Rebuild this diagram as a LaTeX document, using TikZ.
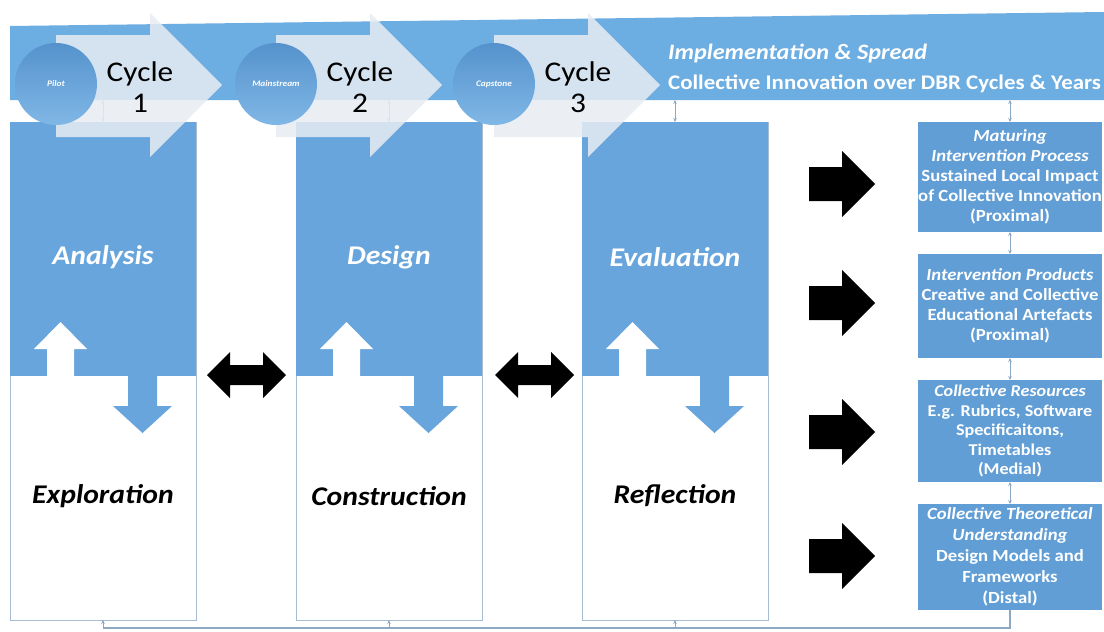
\documentclass[tikz,border=0pt]{standalone}
\usepackage{fontspec}
\setmainfont[FakeStretch=1.1]{Carlito}
\usetikzlibrary{arrows.meta}
\definecolor{bannerblue}{HTML}{6CADE2}
\definecolor{colblue}{HTML}{68A5DC}
\definecolor{boxblue}{HTML}{619ED5}
\definecolor{cycfill}{HTML}{E8EDF3}
\definecolor{connc}{HTML}{8DA8C3}
\definecolor{edgec}{HTML}{A7BCD1}
\definecolor{circtop}{HTML}{5592CC}
\definecolor{circbot}{HTML}{80B7E6}
\begin{document}
\begin{tikzpicture}[x=1pt,y=-1pt,
 colframe/.style={draw=edgec,line width=0.9pt,fill=white,anchor=north west,minimum width=186pt,minimum height=498pt,inner sep=0pt,outer sep=0pt},
 coltop/.style={fill=colblue,anchor=north west,minimum width=186pt,minimum height=254pt,inner sep=0pt,outer sep=0pt},
 toplabel/.style={text=white,font=\fontsize{27}{30}\selectfont\bfseries\itshape},
 botlabel/.style={text=black,font=\fontsize{27}{30}\selectfont\bfseries\itshape},
 cycarrow/.style={fill=cycfill,fill opacity=0.85},
 circ/.style={circle,minimum size=82pt,inner sep=0pt,top color=circtop,bottom color=circbot,text=white,font=\fontsize{8.5}{10}\selectfont\bfseries\itshape},
 cyctext/.style={align=center,font=\fontsize{28.5}{31}\selectfont,text=black},
 rbox/.style={fill=boxblue,anchor=north west,minimum width=184pt,inner sep=0pt,outer sep=0pt,align=center,text=white,font=\fontsize{17}{20}\selectfont\bfseries},
 link/.style={draw=connc,line width=0.8pt,{Stealth[length=4pt,width=3.5pt]}-{Stealth[length=4pt,width=3.5pt]}},
 busline/.style={draw=connc,line width=1.2pt},
 busarrow/.style={draw=connc,line width=0.8pt,-{Stealth[length=4pt,width=3.5pt]}},
 blockarrow/.style={fill=black}]
\useasboundingbox[fill=white] (0,0) rectangle (1104,632);

% banner
\fill[bannerblue] (10,26) -- (1104,12) -- (1104,100) -- (10,100) -- cycle;
\coordinate (b1) at (103,100);
\coordinate (b2) at (389,100);
\coordinate (b3) at (675,100);
\coordinate (b4) at (1010,100);

% columns
\foreach \i/\x/\la/\lb in {1/10/Analysis/Exploration,2/296/Design/Construction,3/582/Evaluation/Reflection}{
  \node[colframe] (col\i) at (\x,122) {};
  \node[coltop] (top\i) at (\x,122) {};
  \node[toplabel] (tl\i) at (\x+93,257) {\la};
  \node[botlabel] (bl\i) at (\x+93,496) {\lb};
  \fill[white] (\x+24,349) -- (\x+50.5,322) -- (\x+77,349) -- (\x+64,349) -- (\x+64,376.5) -- (\x+37,376.5) -- (\x+37,349) -- cycle;
  \fill[colblue] (\x+118,375.5) -- (\x+147,375.5) -- (\x+147,406) -- (\x+162,406) -- (\x+132.5,433) -- (\x+103,406) -- (\x+118,406) -- cycle;
}

% small links banner -> columns
\draw[link] (b1) -- (col1.north);
\draw[link] (b2) -- (col2.north);
\draw[link] (b3) -- (col3.north);

% double block arrows between columns
\foreach \x in {207,495}{
  \fill[blockarrow] (\x,375) -- (\x+23,352) -- (\x+23,365) -- (\x+56,365) -- (\x+56,352) -- (\x+79,375) -- (\x+56,398) -- (\x+56,385) -- (\x+23,385) -- (\x+23,398) -- cycle;
}

% right block arrows
\foreach \c in {184,303,432,556}{
  \fill[blockarrow] (809,\c-17) -- (842,\c-17) -- (842,\c-33) -- (875,\c) -- (842,\c+33) -- (842,\c+17) -- (809,\c+17) -- cycle;
}

% right boxes
\node[rbox,minimum height=110pt] (r1) at (918,122) {\textit{Maturing}\\\textit{Intervention Process}\\Sustained Local Impact\\of Collective Innovation\\(Proximal)};
\node[rbox,minimum height=104pt] (r2) at (918,254) {\textit{Intervention Products}\\Creative and Collective\\Educational Artefacts\\(Proximal)};
\node[rbox,minimum height=102pt,font=\fontsize{16.5}{19.5}\selectfont\bfseries] (r3) at (918,380) {\textit{Collective Resources}\\E.g. Rubrics, Software\\Specificaitons,\\Timetables\\(Medial)};
\node[rbox,minimum height=106pt,font=\fontsize{17}{21}\selectfont\bfseries] (r4) at (918,504) {\textit{Collective Theoretical}\\\textit{Understanding}\\Design Models and\\Frameworks\\(Distal)};

\draw[link] (b4) -- (r1.north);
\draw[link] (r1.south) -- (r2.north);
\draw[link] (r2.south) -- (r3.north);
\draw[link] (r3.south) -- (r4.north);

% bottom feedback bus
\coordinate (bus) at (0,628);
\draw[busline] (r4.south) -- (r4.south |- bus) -- (col1.south |- bus);
\draw[busarrow] (col1.south |- bus) -- (col1.south);
\draw[busarrow] (col2.south |- bus) -- (col2.south);
\draw[busarrow] (col3.south |- bus) -- (col3.south);

% cycle arrows
\foreach \bx in {56,276,494}{
  \fill[cycarrow] (\bx,35) -- (\bx+94,35) -- (\bx+94,13) -- (\bx+166,85) -- (\bx+94,157) -- (\bx+94,137) -- (\bx,137) -- cycle;
}
\node[circ] (p1) at (56,84) {Pilot};
\node[circ] (p2) at (276,84) {Mainstream};
\node[circ] (p3) at (494,84) {Capstone};
\node[cyctext] (cy1) at (140,87) {Cycle\\1};
\node[cyctext] (cy2) at (360,87) {Cycle\\2};
\node[cyctext] (cy3) at (578,87) {Cycle\\3};

% banner text
\node[anchor=base west,inner sep=0pt,text=white,font=\fontsize{22}{24}\selectfont\bfseries\itshape] (bt1) at (668,59) {Implementation \& Spread};
\node[anchor=base west,inner sep=0pt,text=white,font=\fontsize{20.8}{24}\selectfont\bfseries] (bt2) at (668,89) {Collective Innovation over DBR Cycles \& Years};
\end{tikzpicture}
\end{document}
